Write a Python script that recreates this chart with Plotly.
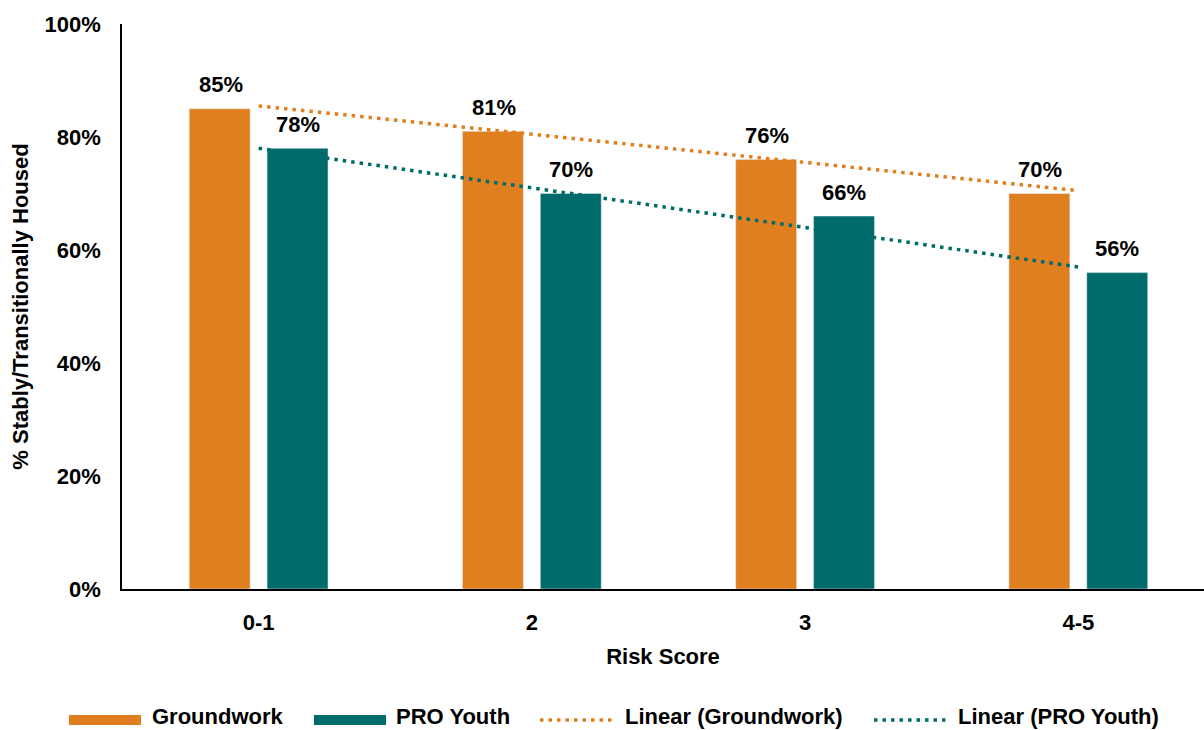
import numpy as np
import plotly.graph_objects as go

categories = ["0-1", "2", "3", "4-5"]
groundwork = [0.85, 0.81, 0.76, 0.70]
pro_youth = [0.78, 0.70, 0.66, 0.56]
y_ticks = [0, 0.2, 0.4, 0.6, 0.8, 1.0]
legend_names = ["Groundwork", "PRO Youth", "Linear (Groundwork)", "Linear (PRO Youth)"]

ORANGE = "#E07F1F"
TEAL = "#006B6B"
FONT = "Liberation Sans, Arial, sans-serif"
FS = 22

W, H = 1204, 730
L, R, T, B = 122, 0, 24, 141
PW, PH = W - L - R, H - T - B


def px(x):
    return (x - L) / PW


def py(y):
    return (H - B - y) / PH


def bold(size=FS):
    return dict(family=FONT, size=size, color="#000", weight="bold")


idx = np.arange(len(categories))
gw_fit = np.polyval(np.polyfit(idx, groundwork, 1), idx)
py_fit = np.polyval(np.polyfit(idx, pro_youth, 1), idx)

fig = go.Figure()
fig.add_trace(go.Bar(x=categories, y=groundwork, name=legend_names[0], marker_color=ORANGE,
                     offset=-0.254, width=0.223, showlegend=False))
fig.add_trace(go.Bar(x=categories, y=pro_youth, name=legend_names[1], marker_color=TEAL,
                     offset=0.031, width=0.223, showlegend=False))
fig.add_trace(go.Scatter(x=categories, y=gw_fit, mode="lines", name=legend_names[2],
                         line=dict(color=ORANGE, width=3.5, dash="3.5px,5px"), showlegend=False))
fig.add_trace(go.Scatter(x=categories, y=py_fit, mode="lines", name=legend_names[3],
                         line=dict(color=TEAL, width=3.5, dash="3.5px,5px"), showlegend=False))

annotations = []
for i, v in zip(idx, groundwork):
    annotations.append(dict(x=int(i), y=v, xref="x", yref="y", text=f"{round(v*100)}%", showarrow=False,
                            xshift=-38, yshift=24, yanchor="middle", font=bold()))
for i, v in zip(idx, pro_youth):
    annotations.append(dict(x=int(i), y=v, xref="x", yref="y", text=f"{round(v*100)}%", showarrow=False,
                            xshift=39, yshift=24, yanchor="middle", font=bold()))

# custom legend
shapes = []
leg_y = 720
txt_y = 716
shapes.append(dict(type="rect", xref="paper", yref="paper", x0=px(69), x1=px(141), y0=py(725), y1=py(715),
                   fillcolor=ORANGE, line=dict(width=0)))
shapes.append(dict(type="rect", xref="paper", yref="paper", x0=px(314), x1=px(386), y0=py(725), y1=py(715),
                   fillcolor=TEAL, line=dict(width=0)))
shapes.append(dict(type="line", xref="paper", yref="paper", x0=px(540), x1=px(616), y0=py(leg_y), y1=py(leg_y),
                   line=dict(color=ORANGE, width=3.5, dash="3.5px,5px")))
shapes.append(dict(type="line", xref="paper", yref="paper", x0=px(874), x1=px(950), y0=py(leg_y), y1=py(leg_y),
                   line=dict(color=TEAL, width=3.5, dash="3.5px,5px")))
for name, x0 in zip(legend_names, [150, 394, 623, 956]):
    annotations.append(dict(x=px(x0), y=py(txt_y), xref="paper", yref="paper", text=name, showarrow=False,
                            xanchor="left", yanchor="middle", font=bold()))

fig.update_layout(
    width=W, height=H,
    margin=dict(l=L, r=R, t=T, b=B),
    plot_bgcolor="white", paper_bgcolor="white",
    barmode="overlay",
    font=bold(),
    annotations=annotations,
    shapes=shapes,
    showlegend=False,
    xaxis=dict(
        type="category", range=[-0.5, 3.46],
        showline=True, linecolor="#000", linewidth=1.5,
        showgrid=False, ticks="", ticklabelstandoff=13,
        tickfont=bold(),
        title=dict(text="Risk Score", standoff=14, font=bold()),
    ),
    yaxis=dict(
        range=[0, 1], tickvals=y_ticks, tickformat=".0%",
        showline=True, linecolor="#000", linewidth=1.5,
        showgrid=False, zeroline=False, ticks="", ticklabelstandoff=15,
        tickfont=bold(),
        title=dict(text="% Stably/Transitionally Housed", standoff=10, font=bold()),
    ),
)

fig.write_html("out.html")
